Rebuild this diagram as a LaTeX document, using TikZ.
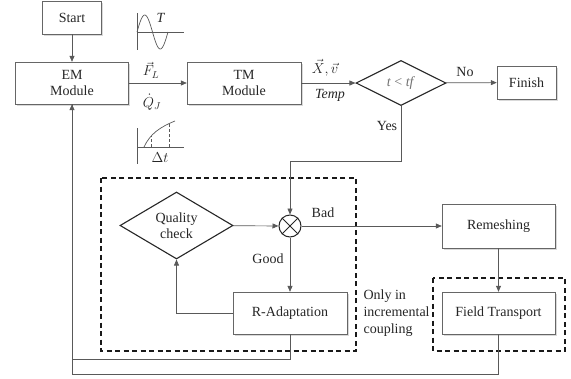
\documentclass[tikz,border=0pt]{standalone}
\usepackage{fontspec}
\setmainfont{Liberation Serif}
\usetikzlibrary{shapes.geometric}
\usetikzlibrary{arrows.meta}
\usetikzlibrary{shadows}

\begin{document}
\begin{tikzpicture}[x=1pt, y=-1pt, font=\fontsize{14}{16}\selectfont, text=black!85,
    box/.style={draw=black!60, fill=white, rectangle, align=center, inner sep=0pt,
      drop shadow={shadow xshift=1.5pt, shadow yshift=-1.5pt, opacity=0.3}},
    test/.style={draw=black!85, line width=1.1pt, fill=white, diamond, inner sep=0pt, align=center},
    link/.style={draw=black!65, line width=0.7pt},
    arr/.style={link, -{Triangle[length=6pt, width=5pt]}},
    zone/.style={draw=black!90, line width=1.2pt, dash pattern=on 5pt off 3.5pt}]
    \useasboundingbox (0,0) rectangle (571,378);

    % dashed zones
    \draw [zone] (101,178) rectangle (356,351);
    \draw [zone] (433,278) rectangle (565,351);

    % main row
    \node [box, minimum width=59pt, minimum height=33pt] (start) at (72,17.5) {Start};
    \node [box, minimum width=113pt, minimum height=42pt] (em) at (72,83) {EM\\Module};
    \node [box, minimum width=114pt, minimum height=42pt] (tm) at (244,83) {TM\\Module};
    \node [test, aspect=2, minimum width=90pt, minimum height=45pt, text=black!55] (cond) at (401,83) {\textit{t} {<} \textit{tf}};
    \node [box, minimum width=59pt, minimum height=33pt] (finish) at (526.5,82.5) {Finish};

    % adaptation loop
    \node [test, aspect=1.7, minimum width=113pt, minimum height=67pt] (qual) at (176.5,225.5) {Quality\\check};
    \node [draw=black!85, line width=1pt, circle, minimum size=22pt, inner sep=0pt] (mix) at (290,226) {};
    \draw [black!85, line width=1pt] (mix.north west) -- (mix.south east) (mix.north east) -- (mix.south west);
    \node [box, minimum width=114pt, minimum height=42pt] (radapt) at (290,313) {R-Adaptation};
    \node [box, minimum width=113pt, minimum height=44pt] (remesh) at (498.5,226) {Remeshing};
    \node [box, minimum width=113pt, minimum height=42pt] (ftrans) at (498.5,313) {Field Transport};
    \node [anchor=west, align=left, font=\fontsize{14}{17}\selectfont] (note) at (360,313) {Only in\\incremental\\coupling};

    % connectors
    \draw [arr] (start) -- (em);
    \draw [arr] (em) -- (tm);
    \draw [arr] (tm) -- (cond);
    \draw [arr] (cond) -- (finish);
    \draw [arr] (cond.south) -- ++(0,55) -| (mix.north);
    \draw [arr] (qual) -- (mix);
    \draw [arr] (mix) -- (radapt);
    \draw [arr] (mix) -- (remesh);
    \draw [arr] (remesh) -- (ftrans);
    \draw [arr] (radapt.west) -| (qual.south);
    \draw [link] (radapt.south) -- ++(0,25) -| (em.south);
    \draw [arr] (ftrans.south) -- ++(0,40) -| (em.south);

    % labels
    \node (fl) at (151,70) {$\vec{F}_L$};
    \node (qj) at (152,102) {$\dot{Q}_J$};
    \node (xv) at (325,68) {$\vec{X},\vec{v}$};
    \node (temp) at (330,95) {\textit{Temp}};
    \node (no) at (465,72) {No};
    \node (yes) at (387,126) {Yes};
    \node (bad) at (323,213) {Bad};
    \node (good) at (268,259) {Good};

    % small sketches
    \draw [link] (137,13) -- (137,50);
    \draw [link] (137,32) -- (184,32);
    \draw [link, domain=0:1, samples=40, smooth] plot ({137+31*\x}, {32-17*sin(360*\x)});
    \node (tt) at (161,18) {\textit{T}};
    \draw [link] (137,128) -- (137,164);
    \draw [link] (137,147) -- (184,147);
    \draw [link] (144,147) .. controls (150,134) and (160,127) .. (175,121);
    \draw [link, densely dashed, line width=0.5pt] (151,147) -- (151,136);
    \draw [link, densely dashed, line width=0.5pt] (169,147) -- (169,124);
    \node (dt) at (160,158) {$\Delta t$};
\end{tikzpicture}
\end{document}
